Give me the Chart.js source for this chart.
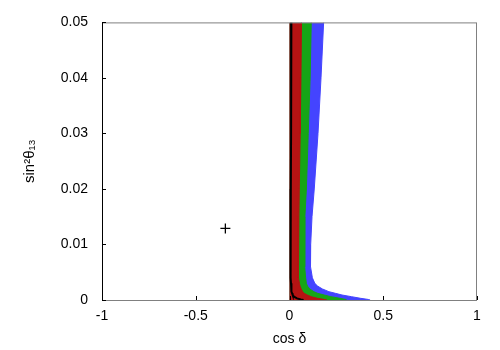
<!DOCTYPE html>
<html>
<head>
<meta charset="utf-8">
<script src="https://cdn.jsdelivr.net/npm/chart.js@4/dist/chart.umd.min.js"></script>
<style>
  html, body { margin: 0; padding: 0; background: #fff; }
  #wrap { width: 500px; height: 350px; }
</style>
</head>
<body>
<div id="wrap"><canvas id="chart" width="500" height="350"></canvas></div>
<script>
// sin^2(theta13) levels, top to bottom
const sinLevels = [0.05, 0.04, 0.03, 0.02, 0.015, 0.01, 0.006, 0.004, 0.003, 0.0025, 0.002, 0.0015, 0.0012, 0.0009, 0.0006, 0.0003, 0.0001, 0];

// right edge (cos delta) of each region at those levels
const blueEdge  = [0.182, 0.168, 0.152, 0.132, 0.12, 0.113, 0.112, 0.122, 0.135, 0.15, 0.175, 0.21, 0.245, 0.28, 0.33, 0.38, 0.42, 0.43];
const greenEdge = [0.116, 0.11, 0.1, 0.09, 0.082, 0.08, 0.082, 0.086, 0.09, 0.096, 0.108, 0.13, 0.15, 0.185, 0.22, 0.27, 0.3, 0.305];
const redEdge   = [0.064, 0.061, 0.057, 0.052, 0.05, 0.046, 0.047, 0.05, 0.053, 0.056, 0.062, 0.07, 0.078, 0.095, 0.115, 0.15, 0.185, 0.2];
const blackLine = [0.01, 0.009, 0.008, 0.007, 0.006, 0.005, 0.006, 0.007, 0.008, 0.009, 0.01, 0.012, 0.014, 0.017, 0.024, 0.04, 0.06, 0.075];

// best fit marker
const bestFit = [{ x: -0.342, y: 0.0129 }];

const xTicks = [-1, -0.5, 0, 0.5, 1];
const yTicks = [0, 0.01, 0.02, 0.03, 0.04, 0.05];

function toPoints(edge) {
    return sinLevels.map((s, i) => ({ x: edge[i], y: s }));
}

const fontFamily = '"Liberation Sans", Arial, Helvetica, sans-serif';

// frame + inward ticks, gnuplot style
const framePlugin = {
    id: 'frame',
    afterDatasetsDraw(chart) {
        const { ctx, chartArea: a, scales } = chart;
        ctx.save();
        ctx.lineWidth = 1;
        ctx.strokeStyle = '#808080';
        ctx.strokeRect(a.left + 0.5, a.top + 0.5, a.right - a.left - 1, a.bottom - a.top);
        ctx.strokeStyle = '#000';
        ctx.beginPath();
        ctx.moveTo(a.left + 0.5, a.top);
        ctx.lineTo(a.left + 0.5, a.bottom);
        xTicks.forEach(v => {
            const px = Math.round(scales.x.getPixelForValue(v)) + 0.5;
            ctx.moveTo(px, a.bottom);
            ctx.lineTo(px, a.bottom - 4);
        });
        yTicks.forEach(v => {
            const py = Math.round(scales.y.getPixelForValue(v)) + 0.5;
            ctx.moveTo(a.left, py);
            ctx.lineTo(a.left + 4, py);
        });
        ctx.stroke();
        ctx.restore();
    }
};

new Chart(document.getElementById('chart').getContext('2d'), {
    type: 'line',
    data: {
        datasets: [
            {
                label: 'best fit',
                data: bestFit,
                showLine: false,
                pointStyle: 'cross',
                pointRadius: 5,
                pointBorderWidth: 1.3,
                pointBorderColor: '#000',
                order: 0
            },
            {
                label: 'line',
                data: toPoints(blackLine),
                borderColor: '#000',
                borderWidth: 2,
                pointRadius: 0,
                fill: false,
                order: 1
            },
            {
                label: 'red',
                data: toPoints(redEdge),
                borderColor: '#b51313',
                backgroundColor: '#b51313',
                borderWidth: 1,
                pointRadius: 0,
                fill: 'origin',
                order: 2
            },
            {
                label: 'green',
                data: toPoints(greenEdge),
                borderColor: '#16a516',
                backgroundColor: '#16a516',
                borderWidth: 1,
                pointRadius: 0,
                fill: 'origin',
                order: 3
            },
            {
                label: 'blue',
                data: toPoints(blueEdge),
                borderColor: '#4444ff',
                backgroundColor: '#4444ff',
                borderWidth: 1,
                pointRadius: 0,
                fill: 'origin',
                order: 4
            }
        ]
    },
    options: {
        responsive: false,
        animation: false,
        indexAxis: 'y',
        layout: { padding: { left: 0, top: 18, right: 23, bottom: 0 } },
        plugins: {
            legend: { display: false },
            tooltip: { enabled: false }
        },
        scales: {
            x: {
                type: 'linear',
                min: -1,
                max: 1,
                afterBuildTicks(scale) { scale.ticks = xTicks.map(v => ({ value: v })); },
                afterFit(scale) { scale.height = 50; },
                grid: { display: false, drawTicks: false },
                border: { display: false },
                ticks: {
                    padding: 8,
                    color: '#000',
                    font: { family: fontFamily, size: 14 },
                    callback: v => String(v)
                },
                title: {
                    display: true,
                    text: 'cos δ',
                    color: '#000',
                    font: { family: fontFamily, size: 14 },
                    padding: { top: 0, bottom: 2 }
                }
            },
            y: {
                type: 'linear',
                min: 0,
                max: 0.05,
                afterBuildTicks(scale) { scale.ticks = yTicks.map(v => ({ value: v })); },
                afterFit(scale) { scale.width = 102; },
                grid: { display: false, drawTicks: false },
                border: { display: false },
                ticks: {
                    padding: 14,
                    color: '#000',
                    font: { family: fontFamily, size: 14 },
                    callback: v => (v === 0 ? '0' : v.toFixed(2))
                },
                title: {
                    display: true,
                    text: 'sin²θ₁₃',
                    color: '#000',
                    font: { family: fontFamily, size: 15 },
                    padding: { top: 21, bottom: 0 }
                }
            }
        }
    },
    plugins: [framePlugin]
});
</script>
</body>
</html>
